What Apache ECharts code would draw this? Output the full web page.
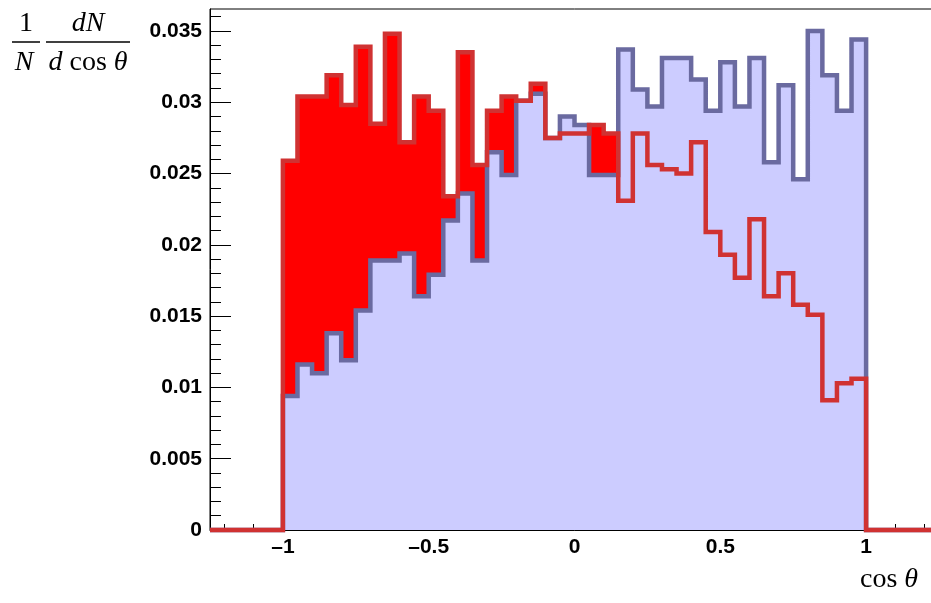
<!DOCTYPE html>
<html style="height: 100%">
<head>
    <meta charset="utf-8">
</head>
<body style="height: 100%; margin: 0; background-color: #fff; overflow: hidden">
<div id="container" style="height: 603px; width: 940px"></div>
<script type="text/javascript" src="https://cdn.jsdelivr.net/npm/echarts@6/dist/echarts.min.js"></script>
<script type="text/javascript">
    // 40 bins of width 0.05 between -1 and 1
    var binLow = -1;
    var binWidth = 0.05;
    var redValues = [
        0.0259, 0.0304, 0.0304, 0.0319, 0.0298, 0.0339, 0.0285, 0.0348, 0.0272, 0.0304,
        0.0294, 0.0234, 0.0335, 0.0256, 0.0294, 0.0304, 0.0301, 0.0313, 0.0275, 0.0278,
        0.0278, 0.0284, 0.0278, 0.0231, 0.0278, 0.0256, 0.0253, 0.0250, 0.0272, 0.0209,
        0.0193, 0.0177, 0.0218, 0.0164, 0.0180, 0.0158, 0.0151, 0.0091, 0.0103, 0.0106
    ];
    var blueValues = [
        0.0094, 0.0116, 0.0110, 0.0138, 0.0119, 0.0154, 0.0189, 0.0189, 0.0194, 0.0164,
        0.0179, 0.0217, 0.0236, 0.0189, 0.0265, 0.0249, 0.0301, 0.0306, 0.0275, 0.0290,
        0.0284, 0.0249, 0.0249, 0.0337, 0.0309, 0.0297, 0.0331, 0.0331, 0.0316, 0.0294,
        0.0328, 0.0297, 0.0331, 0.0258, 0.0312, 0.0246, 0.0350, 0.0319, 0.0294, 0.0344
    ];
    var xMajorTicks = [-1, -0.5, 0, 0.5, 1];
    var xMinorTicks = [-1.2, -1.1, -0.9, -0.8, -0.7, -0.6, -0.4, -0.3, -0.2, -0.1,
        0.1, 0.2, 0.3, 0.4, 0.6, 0.7, 0.8, 0.9, 1.1, 1.2];
    var yMajorTicks = [0, 0.005, 0.01, 0.015, 0.02, 0.025, 0.03, 0.035];
    var yMinorTicks = [0.001, 0.002, 0.003, 0.004, 0.006, 0.007, 0.008, 0.009,
        0.011, 0.012, 0.013, 0.014, 0.016, 0.017, 0.018, 0.019,
        0.021, 0.022, 0.023, 0.024, 0.026, 0.027, 0.028, 0.029,
        0.031, 0.032, 0.033, 0.034, 0.036];

    var xMin = -1.25, xMax = 1.25, yMax = 0.03654;

    // histogram -> step points (left edge of each bin), zero outside [-1,1]
    function histPoints(values) {
        var pts = [[xMin, 0]];
        for (var i = 0; i < values.length; i++) {
            pts.push([+(binLow + i * binWidth).toFixed(4), values[i]]);
        }
        pts.push([+(binLow + values.length * binWidth).toFixed(4), 0]);
        pts.push([xMax, 0]);
        return pts;
    }

    var dom = document.getElementById("container");
    var myChart = echarts.init(dom);
    var font = '"Liberation Sans", Arial, Helvetica, sans-serif';
    var serif = '"Liberation Serif", "DejaVu Serif", serif';

    var option = {
        animation: false,
        grid: {
            left: 210,
            top: 9,
            right: 1,
            bottom: 73,
            show: true,
            borderColor: '#000',
            borderWidth: 1,
            backgroundColor: 'transparent'
        },
        xAxis: [{
            type: 'value',
            min: xMin,
            max: xMax,
            splitLine: { show: false },
            axisLine: { onZero: false, lineStyle: { color: '#000', width: 1 } },
            axisTick: { inside: true, length: 12, customValues: xMajorTicks, lineStyle: { color: '#000' } },
            axisLabel: {
                customValues: xMajorTicks,
                margin: 7,
                color: '#000',
                fontSize: 21,
                fontWeight: 'bold',
                fontFamily: font,
                formatter: function (v) { return String(v).replace('-', '\u2013'); }
            }
        }, {
            type: 'value',
            position: 'bottom',
            min: xMin,
            max: xMax,
            splitLine: { show: false },
            axisLine: { show: false, onZero: false },
            axisLabel: { show: false },
            axisTick: { inside: true, length: 6, customValues: xMinorTicks, lineStyle: { color: '#000' } }
        }],
        yAxis: [{
            type: 'value',
            min: 0,
            max: yMax,
            splitLine: { show: false },
            axisLine: { show: true, onZero: false, lineStyle: { color: '#000', width: 1 } },
            axisTick: { show: true, inside: true, length: 21, customValues: yMajorTicks, lineStyle: { color: '#000' } },
            axisLabel: {
                customValues: yMajorTicks,
                margin: 8,
                color: '#000',
                fontSize: 21,
                fontWeight: 'bold',
                fontFamily: font
            }
        }, {
            type: 'value',
            position: 'left',
            min: 0,
            max: yMax,
            splitLine: { show: false },
            axisLine: { show: false, onZero: false },
            axisLabel: { show: false },
            axisTick: { show: true, inside: true, length: 11, customValues: yMinorTicks, lineStyle: { color: '#000' } }
        }],
        series: [{
            name: 'red fill',
            type: 'line',
            step: 'end',
            silent: true,
            clip: false,
            showSymbol: false,
            z: 2,
            data: histPoints(redValues),
            lineStyle: { width: 0, opacity: 0 },
            areaStyle: { color: '#ff0000', opacity: 1 }
        }, {
            name: 'blue',
            type: 'line',
            step: 'end',
            silent: true,
            clip: false,
            showSymbol: false,
            z: 3,
            data: histPoints(blueValues),
            lineStyle: { color: '#6a6aa0', width: 4.5, join: 'miter' },
            areaStyle: { color: '#ccccff', opacity: 1 }
        }, {
            name: 'red line',
            type: 'line',
            step: 'end',
            silent: true,
            clip: false,
            showSymbol: false,
            z: 4,
            data: histPoints(redValues),
            lineStyle: { color: '#d03232', width: 4.5, join: 'miter' }
        }],
        graphic: [
            { type: 'text', x: 26, y: 24, style: { text: '1', font: '28px ' + serif, fill: '#000', align: 'center', verticalAlign: 'middle' } },
            { type: 'line', shape: { x1: 12, y1: 42, x2: 40, y2: 42 }, style: { stroke: '#000', lineWidth: 1.5 } },
            { type: 'text', x: 24, y: 63, style: { text: 'N', font: 'italic 28px ' + serif, fill: '#000', align: 'center', verticalAlign: 'middle' } },
            { type: 'text', x: 88, y: 24, style: { text: 'dN', font: 'italic 28px ' + serif, fill: '#000', align: 'center', verticalAlign: 'middle' } },
            { type: 'line', shape: { x1: 46, y1: 42, x2: 130, y2: 42 }, style: { stroke: '#000', lineWidth: 1.5 } },
            {
                type: 'text', x: 88, y: 63,
                style: {
                    text: '{i|d}{r| cos }{i|\u03b8}',
                    align: 'center', verticalAlign: 'middle',
                    rich: {
                        i: { font: 'italic 28px ' + serif, fill: '#000' },
                        r: { font: '28px ' + serif, fill: '#000' }
                    }
                }
            },
            {
                type: 'text', x: 889, y: 580,
                style: {
                    text: '{r|cos }{i|\u03b8}',
                    align: 'center', verticalAlign: 'middle',
                    rich: {
                        i: { font: 'italic 28px ' + serif, fill: '#000' },
                        r: { font: '28px ' + serif, fill: '#000' }
                    }
                }
            }
        ]
    };
    myChart.setOption(option, true);
</script>
</body>
</html>
